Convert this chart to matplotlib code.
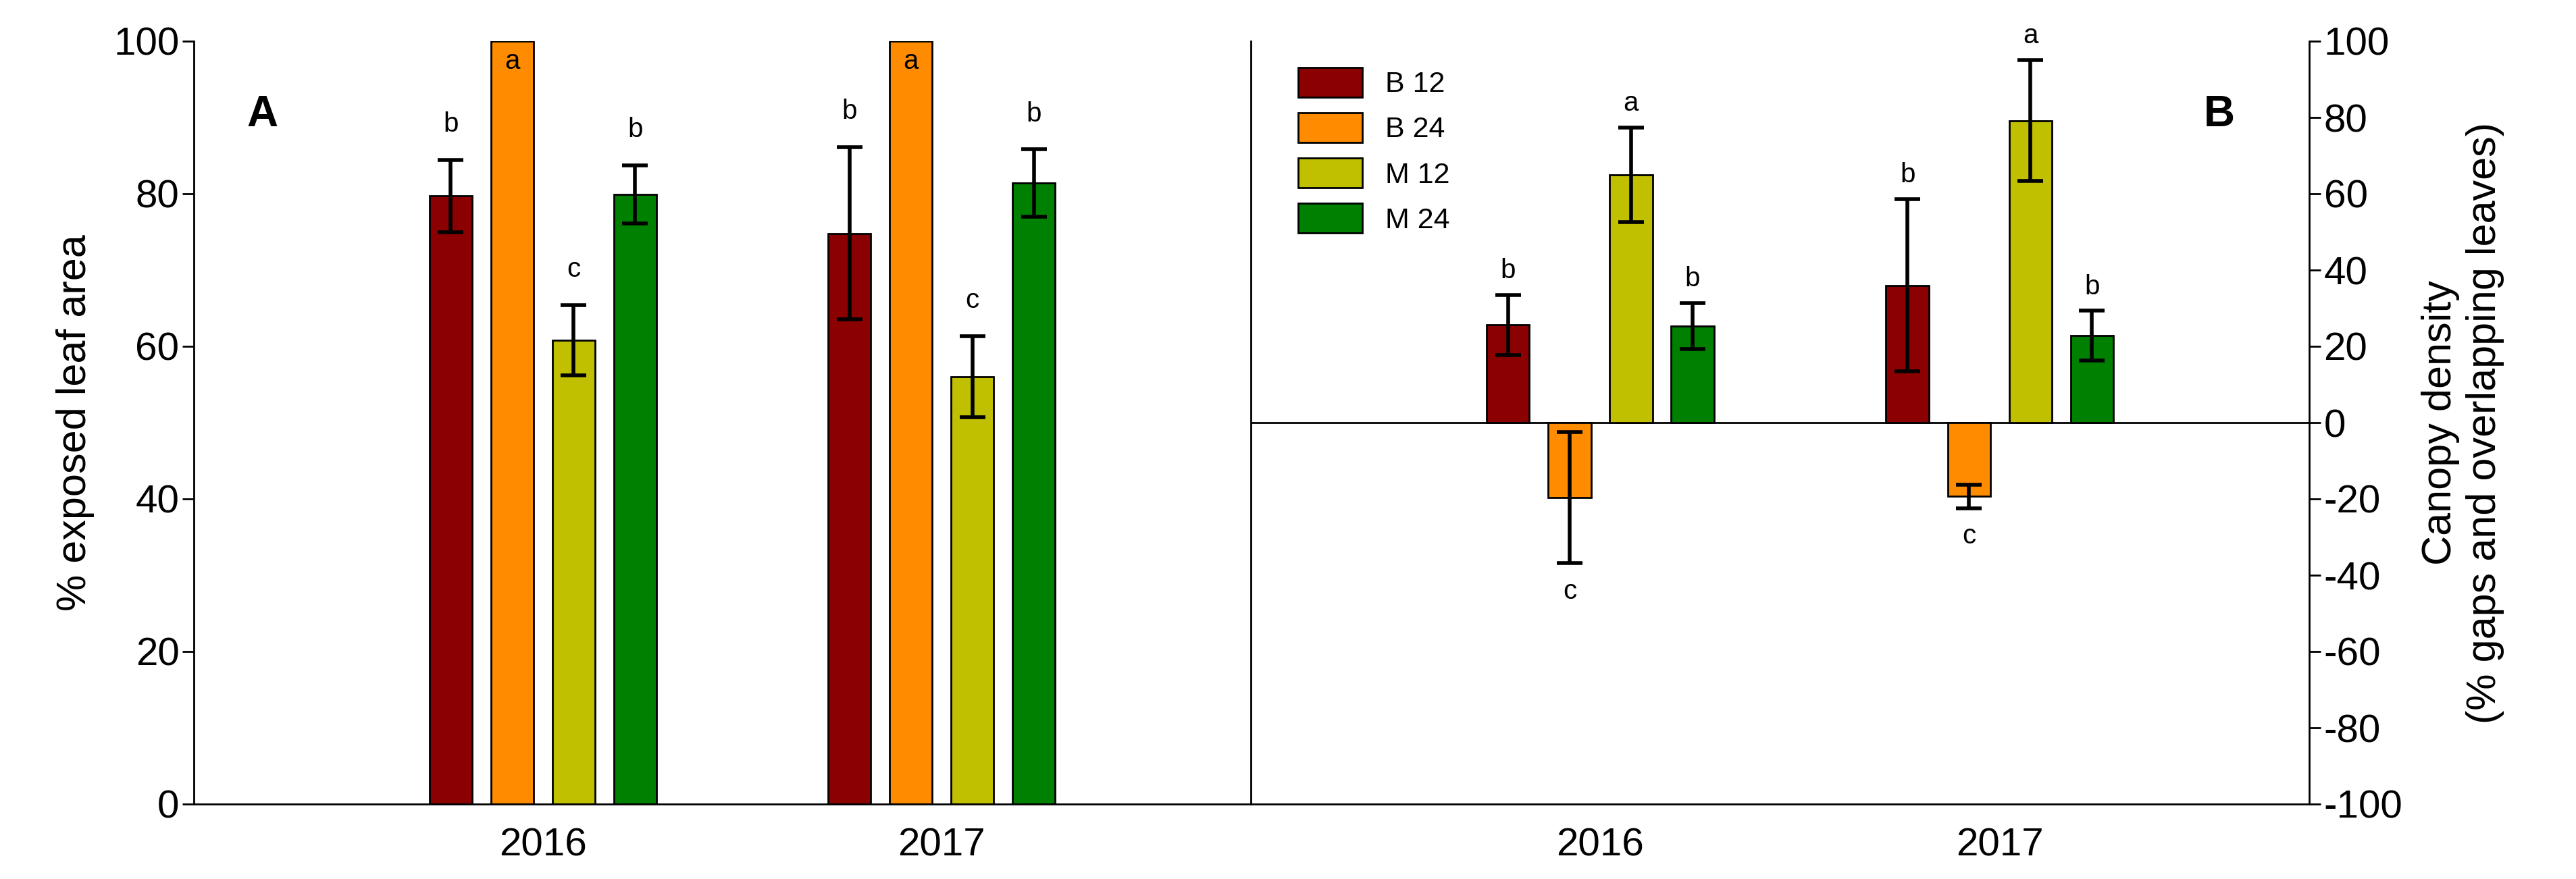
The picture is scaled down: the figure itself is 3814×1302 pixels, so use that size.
import matplotlib
matplotlib.use("Agg")
import matplotlib.pyplot as plt
import numpy as np

plt.rcParams["font.family"] = "Liberation Sans"
plt.rcParams["axes.unicode_minus"] = False

years = ["2016", "2017"]
treatments = ["B 12", "B 24", "M 12", "M 24"]
colors = ["#8b0000", "#ff8c00", "#c0c000", "#008000"]

# panel A: % exposed leaf area (per treatment: 2016, 2017)
exposed = [[79.7, 74.8], [100.0, 100.0], [60.8, 56.0], [79.9, 81.4]]
exposed_err = [[4.7, 11.3], [0.0, 0.0], [4.6, 5.3], [3.8, 4.4]]
exposed_letters = [["b", "b"], ["a", "a"], ["c", "c"], ["b", "b"]]

# panel B: canopy density
density = [[25.6, 36.0], [-19.7, -19.3], [65.0, 79.2], [25.3, 22.8]]
density_err = [[7.9, 22.6], [17.2, 3.1], [12.4, 15.9], [6.0, 6.5]]
density_letters = [["b", "b"], ["c", "c"], ["a", "a"], ["b", "b"]]

fig = plt.figure(figsize=(38.14, 13.02), dpi=100)
axA = fig.add_axes([287 / 3814, 1 - 1191 / 1302, 1565 / 3814, 1130 / 1302])
axB = fig.add_axes([1852 / 3814, 1 - 1191 / 1302, 1567 / 3814, 1130 / 1302])

centers = np.array([1.0, 2.0])
offsets = np.array([-1.5, -0.5, 0.5, 1.5]) * 0.154
width = 0.107
err_kw = dict(ecolor="black", elinewidth=4, capsize=14, capthick=4)

for ax, vals, errs, letters, ylim in [
    (axA, exposed, exposed_err, exposed_letters, (0, 100)),
    (axB, density, density_err, density_letters, (-100, 100)),
]:
    for i in range(4):
        x = centers + offsets[i]
        ax.bar(x, vals[i], width, color=colors[i], edgecolor="black",
               linewidth=2, label=treatments[i], zorder=2)
        e = np.array(errs[i])
        if e.any():
            ax.errorbar(x, vals[i], yerr=e, fmt="none", zorder=3, **err_kw)
        for j in range(2):
            v = vals[i][j]
            if v >= 100:
                ax.text(x[j], 99, letters[i][j], ha="center", va="top", fontsize=29)
            elif v >= 0:
                ax.text(x[j], v + e[j] + 3, letters[i][j], ha="center", va="bottom", fontsize=29)
            else:
                ax.text(x[j], v - e[j] - 4, letters[i][j], ha="center", va="top", fontsize=29)
    ax.set_xlim(0.125, 2.775)
    ax.set_ylim(*ylim)
    ax.set_xticks(centers)
    ax.set_xticklabels(years)
    ax.tick_params(axis="x", length=0, labelsize=42, pad=25)
    ax.tick_params(axis="y", labelsize=42, width=2, length=12)
    ax.spines["top"].set_visible(False)
    for s in ax.spines.values():
        s.set_linewidth(2)

axA.set_yticks(range(0, 101, 20))
axA.spines["right"].set_visible(False)
axA.set_ylabel("% exposed leaf area", fontsize=44, labelpad=20)
axA.text(0.05, 0.93, "A", transform=axA.transAxes, fontsize=46, fontweight="bold", va="top")

axB.yaxis.tick_right()
axB.yaxis.set_label_position("right")
axB.set_yticks(range(-100, 101, 20))
axB.axhline(0, color="black", linewidth=2, zorder=1)
axB.set_ylabel("Canopy density\n(% gaps and overlapping leaves)", fontsize=44, labelpad=20)
axB.text(0.9, 0.93, "B", transform=axB.transAxes, fontsize=46, fontweight="bold", va="top")
axB.legend(loc="upper left", bbox_to_anchor=(0.02, 1.0), fontsize=31, frameon=False,
           handlelength=2.2, handleheight=1.2, labelspacing=0.5)

fig.savefig("out.png", dpi=100)
